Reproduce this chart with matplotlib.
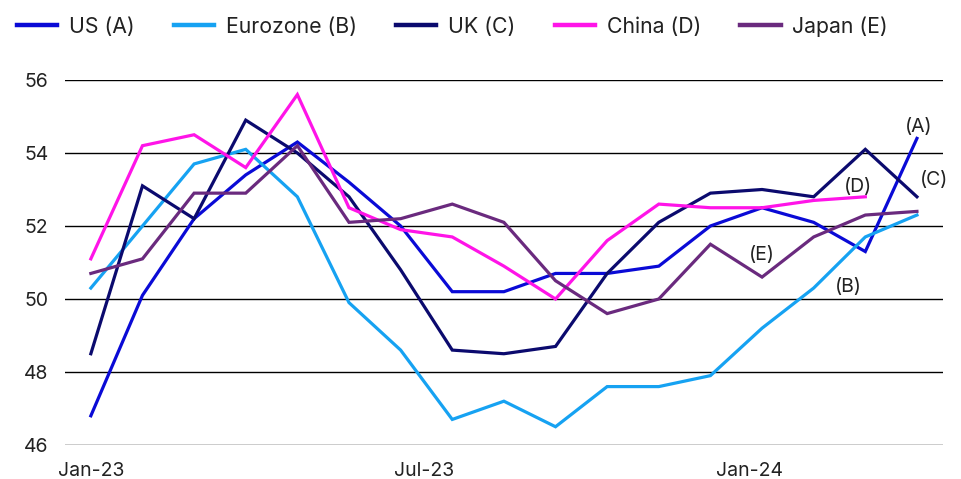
import matplotlib
matplotlib.use("Agg")
import matplotlib.pyplot as plt
from matplotlib.lines import Line2D

plt.rcParams['font.family'] = ['Inter', 'DejaVu Sans']

months = ["Jan-23", "Feb-23", "Mar-23", "Apr-23", "May-23", "Jun-23", "Jul-23", "Aug-23",
          "Sep-23", "Oct-23", "Nov-23", "Dec-23", "Jan-24", "Feb-24", "Mar-24", "Apr-24", "May-24"]
us = [46.8, 50.1, 52.2, 53.4, 54.3, 53.2, 52.0, 50.2, 50.2, 50.7, 50.7, 50.9, 52.0, 52.5, 52.1, 51.3, 54.4]
eurozone = [50.3, 52.0, 53.7, 54.1, 52.8, 49.9, 48.6, 46.7, 47.2, 46.5, 47.6, 47.6, 47.9, 49.2, 50.3, 51.7, 52.3]
uk = [48.5, 53.1, 52.2, 54.9, 54.0, 52.8, 50.8, 48.6, 48.5, 48.7, 50.7, 52.1, 52.9, 53.0, 52.8, 54.1, 52.8]
china = [51.1, 54.2, 54.5, 53.6, 55.6, 52.5, 51.9, 51.7, 50.9, 50.0, 51.6, 52.6, 52.5, 52.5, 52.7, 52.8]
japan = [50.7, 51.1, 52.9, 52.9, 54.2, 52.1, 52.2, 52.6, 52.1, 50.5, 49.6, 50.0, 51.5, 50.6, 51.7, 52.3, 52.4]

names = ["US (A)", "Eurozone (B)", "UK (C)", "China (D)", "Japan (E)"]
series = [us, eurozone, uk, china, japan]
colors = ["#0A0AD6", "#16A2F2", "#0B0A6E", "#FF14E8", "#6A2A7E"]

tick_labels = ["Jan-23", "Jul-23", "Jan-24"]
tick_pos = [0, 6.45, 12.75]
y_ticks = [46, 48, 50, 52, 54, 56]

fig = plt.figure(figsize=(9.62, 4.79), dpi=100)
ax = fig.add_axes([0.0676, 0.071, 0.9124, 0.762])

for vals, c in zip(series, colors):
    ax.plot(range(len(vals)), vals, color=c, lw=2.3, solid_joinstyle='miter', zorder=3)

ax.set_xlim(-0.5, 16.5)
ax.set_ylim(46, 56)
ax.set_yticks(y_ticks)
ax.set_yticklabels([str(v) for v in y_ticks])
ax.set_xticks(tick_pos)
ax.set_xticklabels(tick_labels)
ax.grid(axis='y', color='black', lw=1.0, zorder=1)
ax.tick_params(axis='both', length=0, labelsize=14, colors='#222222')
ax.tick_params(axis='y', pad=12)
ax.tick_params(axis='x', pad=12)
for s in ax.spines.values():
    s.set_visible(False)

# annotations
ann = [("(A)", 16.04, 54.72), ("(C)", 16.33, 53.27), ("(D)", 14.86, 53.07),
       ("(E)", 12.99, 51.2), ("(B)", 14.67, 50.32)]
for t, x, y in ann:
    ax.text(x, y, t, ha='center', va='center', fontsize=14, color='#222222')

handles = [Line2D([0], [0], color=c, lw=3.2) for c in colors]
fig.legend(handles, names, loc='upper left', bbox_to_anchor=(0.004, 0.993), ncol=5,
           frameon=False, fontsize=15.3, handlelength=1.9, handletextpad=0.55,
           columnspacing=1.85, borderaxespad=0.2, labelcolor='#222222')

fig.savefig("out.png", dpi=100)
